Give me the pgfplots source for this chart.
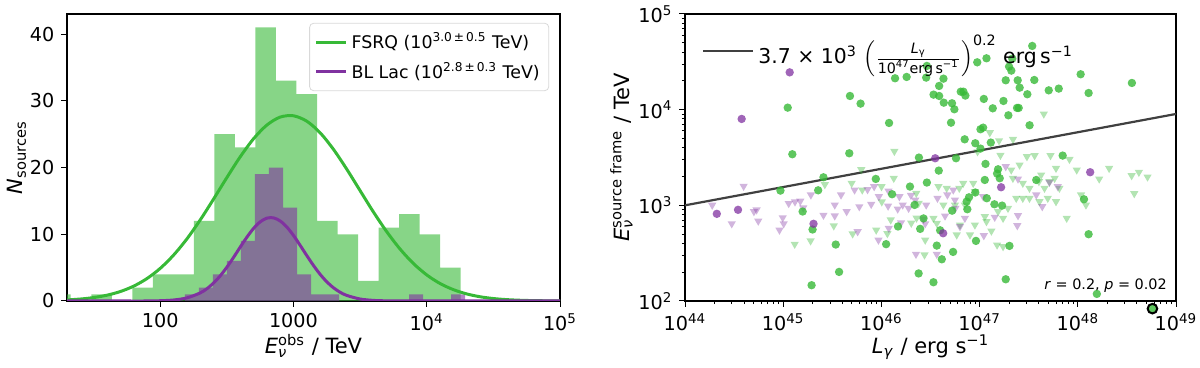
\documentclass[border=0pt]{standalone}
\usepackage{pgfplots}
\pgfplotsset{compat=1.18}
\usepackage{amsmath}
\usepackage{fontspec}
\setmainfont{DejaVu Sans}

\definecolor{fsrq}{RGB}{55,185,55}
\definecolor{bllac}{RGB}{128,50,160}
\definecolor{fitline}{RGB}{64,64,64}
\newcommand{\sups}[1]{\textsuperscript{#1}}
\newcommand{\subs}[1]{\textsubscript{#1}}

\begin{document}
\begin{tikzpicture}
\path[use as bounding box] (0,0) rectangle (600pt,184pt);

\pgfplotsset{
  every axis/.append style={
    scale only axis, height=143.5pt,
    axis line style={line width=0.6pt},
    tick align=outside, tick pos=left,
    major tick length=2.8pt, minor tick length=1.6pt,
    every tick/.style={black, line width=0.5pt},
    tick label style={font=\fontsize{9.6}{11}\selectfont},
    label style={font=\fontsize{10.5}{12}\selectfont},
    xlabel style={yshift=5pt},
  }
}

% ---------- left: histogram of observed neutrino energies ----------
\begin{axis}[
  at={(33.5pt,33.5pt)}, anchor=south west, width=246.5pt,
  xmode=log, xmin=20, xmax=1e5, ymin=0, ymax=43,
  xminorticks=false,
  xtick={100,1000,10000,100000},
  xticklabels={100,1000,10\sups{4},10\sups{5}},
  ytick={0,10,20,30,40}, yticklabels={0,10,20,30,40},
  xlabel={\textit{E}\rlap{\subs{\textit{ν}}}\sups{obs} / TeV},
  ylabel={\textit{N}\subs{sources}},
  ylabel style={yshift=-5pt},
  legend style={at={(0.978,0.969)}, anchor=north east, draw=black!15,
    rounded corners=2pt, fill=white, fill opacity=0.8, text opacity=1,
    font=\fontsize{8.7}{10}\selectfont, inner sep=2.5pt, row sep=1pt},
  legend cell align=left,
  legend image code/.code={\draw[#1] (0pt,0pt) -- (15pt,0pt);},
]
% FSRQ histogram (bin edges, counts)
\addplot[ybar interval, fill=fsrq, fill opacity=0.6, draw=none, forget plot] coordinates {
(14.96,1) (21.33,0) (30.41,1) (43.35,0) (61.80,2) (88.10,4) (125.6,4) (179.1,12)
(255.3,25) (363.9,23) (518.8,41) (739.6,33) (1054,31) (1503,12) (2143,10) (3055,3)
(4355,11) (6209,13) (8851,10) (12618,5) (17989,0)};
% BL Lac histogram
\addplot[ybar interval, fill=bllac, fill opacity=0.6, draw=none, forget plot] coordinates {
(153.5,1) (195.5,2) (249.0,4) (317.1,6) (404.0,9) (514.6,19) (655.5,20) (835.0,14)
(1063.6,4) (1355,1) (1726,1) (2198,0) (2800,0) (3567,0) (4544,0) (5787,0)
(7373,1) (9391,0) (11963,0) (15236,1) (19409,0)};
% fitted curves
\addplot[fsrq, line width=1.5pt, smooth] coordinates {
(19.95,0.160) (25.12,0.291) (31.62,0.511) (39.81,0.864) (50.12,1.409) (63.10,2.213)
(79.43,3.347) (100,4.879) (125.9,6.859) (158.5,9.288) (199.5,12.12) (251.2,15.25)
(316.2,18.48) (398.1,21.58) (501.2,24.29) (631.0,26.35) (794.3,27.55) (1000,27.75)
(1259,26.94) (1585,25.21) (1995,22.73) (2512,19.75) (3162,16.54) (3981,13.34)
(5012,10.38) (6310,7.78) (7943,5.62) (10000,3.91) (12589,2.62) (15849,1.70)
(19953,1.06) (25119,0.634) (31623,0.367) (39811,0.204) (50119,0.110) (63096,0.057)
(79433,0.029) (100000,0.014)};
\addlegendentry{FSRQ (10\sups{3.0\,±\,0.5} TeV)}
\addplot[bllac, line width=1.5pt, smooth] coordinates {
(19.95,0) (50.12,0) (79.43,0.001) (100,0.040) (125.9,0.148) (158.5,0.459)
(199.5,1.204) (223.9,1.83) (251.2,2.679) (281.8,3.75) (316.2,5.05) (354.8,6.51)
(398.1,8.05) (446.7,9.54) (501.2,10.86) (562.3,11.85) (631.0,12.41) (707.9,12.46)
(794.3,12.00) (891.3,11.09) (1000,9.83) (1122,8.35) (1259,6.81) (1413,5.33)
(1585,4.00) (1778,2.88) (1995,1.99) (2239,1.31) (2512,0.835) (3162,0.297)
(3981,0.090) (5012,0.023) (6310,0.005) (10000,0) (100000,0)};
\addlegendentry{BL Lac (10\sups{2.8\,±\,0.3} TeV)}
\end{axis}

% ---------- right: source-frame energy vs luminosity (log10 units) ----------
\begin{axis}[
  at={(342.5pt,33.5pt)}, anchor=south west, width=245.5pt,
  xmin=44, xmax=49, ymin=2, ymax=5, clip=false,
  xtick={44,45,46,47,48,49},
  xticklabels={10\sups{44},10\sups{45},10\sups{46},10\sups{47},10\sups{48},10\sups{49}},
  ytick={2,3,4,5}, yticklabels={10\sups{2},10\sups{3},10\sups{4},10\sups{5}},
  minor xtick={44.301,44.477,44.602,44.699,44.778,44.845,44.903,44.954,
    45.301,45.477,45.602,45.699,45.778,45.845,45.903,45.954,
    46.301,46.477,46.602,46.699,46.778,46.845,46.903,46.954,
    47.301,47.477,47.602,47.699,47.778,47.845,47.903,47.954,
    48.301,48.477,48.602,48.699,48.778,48.845,48.903,48.954},
  minor ytick={2.301,2.477,2.602,2.699,2.778,2.845,2.903,2.954,
    3.301,3.477,3.602,3.699,3.778,3.845,3.903,3.954,
    4.301,4.477,4.602,4.699,4.778,4.845,4.903,4.954},
  xlabel={\textit{L}\subs{\textit{γ}} / erg s\sups{−1}},
  ylabel={\textit{E}\rlap{\subs{\textit{ν}}}\sups{source frame} / TeV},
  ylabel style={yshift=-4pt},
  legend style={draw=none, fill=none, at={(0.022,0.955)}, anchor=north west,
    font=\fontsize{10.2}{12}\selectfont},
  legend image code/.code={\draw[#1] (0pt,0pt) -- (18pt,0pt);
    \path (0pt,0pt) -- (25pt,0pt);},
]
% FSRQ upper limits
\addplot[only marks, mark=triangle*, mark size=2.4pt, forget plot,
  mark options={draw opacity=0, fill=fsrq, fill opacity=0.38, rotate=180}] table {
x y
46.132 3.565
47.654 3.955
47.104 3.760
47.198 3.676
47.340 3.690
47.212 3.523
46.979 3.561
47.482 3.509
47.560 3.520
47.722 3.520
47.915 3.481
45.795 3.373
46.126 3.283
45.117 2.594
45.279 2.629
45.515 2.786
45.424 3.217
45.707 2.702
45.697 3.231
45.805 3.161
45.947 2.742
46.004 3.037
46.061 2.705
46.095 2.848
46.304 2.814
46.358 2.867
46.355 3.126
46.379 3.021
46.439 2.482
46.446 2.637
46.001 3.196
46.581 3.196
46.665 3.179
46.793 3.179
46.833 3.231
46.935 3.231
46.952 3.144
46.850 3.004
46.749 3.004
46.631 3.004
46.530 2.865
46.564 2.813
46.767 2.691
46.800 2.795
46.952 2.795
47.053 2.882
47.070 2.830
47.188 2.935
47.239 2.865
47.289 2.969
47.373 3.074
47.440 3.074
47.508 3.074
47.609 3.039
47.694 3.074
47.778 3.039
47.508 3.179
47.440 3.231
47.339 3.283
47.322 3.370
47.407 3.422
47.778 3.387
47.764 3.283
47.813 3.179
47.661 3.179
47.711 3.248
47.627 3.318
47.604 3.248
47.989 3.370
48.033 3.109
48.083 3.004
47.887 2.865
48.218 3.276
48.319 3.387
48.548 3.311
48.622 3.346
48.710 3.297
48.575 3.123
47.239 2.569
47.178 2.586
47.120 2.732
46.902 2.691
};
% BL Lac upper limits
\addplot[only marks, mark=triangle*, mark size=2.4pt, forget plot,
  mark options={draw opacity=0, fill=bllac, fill opacity=0.36, rotate=180}] table {
x y
44.277 3.002
44.597 3.200
44.476 2.808
44.729 2.953
44.702 2.935
44.746 2.836
44.962 2.742
44.995 2.871
45.005 2.808
45.056 3.020
45.120 3.037
45.174 3.044
45.204 2.974
45.282 3.109
45.410 2.897
45.525 3.004
45.525 2.890
45.589 3.109
45.646 2.935
45.727 3.161
45.758 2.725
45.775 2.986
45.859 3.165
45.896 3.011
45.926 3.196
45.970 2.637
45.974 3.091
46.072 3.150
46.068 2.993
46.075 2.760
46.166 2.962
46.183 3.091
46.217 3.004
46.277 2.969
46.301 3.105
46.345 3.056
46.352 2.489
46.446 2.808
46.456 3.004
46.200 2.818
46.429 2.856
47.266 3.405
47.391 3.276
47.577 3.109
47.638 2.987
47.711 3.241
47.796 3.196
46.749 3.056
46.732 3.161
46.672 3.109
46.571 3.074
46.648 2.889
46.800 2.778
46.850 2.865
47.036 3.091
47.154 2.876
47.391 2.893
47.384 2.788
47.043 2.684
46.564 2.489
46.753 2.969
};
% FSRQ detections
\addplot[only marks, mark=*, mark size=2.1pt, forget plot,
  mark options={draw opacity=0, fill=fsrq, fill opacity=0.8}] table {
x y
45.046 4.021
45.680 4.143
45.788 4.063
46.078 3.861
46.139 4.328
46.257 4.342
46.456 4.335
46.463 4.457
45.093 3.534
45.673 3.544
46.382 3.499
47.536 4.666
46.976 4.495
47.070 4.537
47.300 4.450
47.333 4.533
47.323 4.408
46.632 4.324
46.588 4.248
46.531 4.157
46.588 4.143
46.635 4.073
46.719 4.067
46.743 4.004
46.808 4.188
46.835 4.188
46.855 4.147
47.043 4.112
47.134 4.014
47.243 4.091
47.266 4.307
47.388 4.307
47.408 4.230
47.557 4.310
47.486 4.161
47.293 3.941
47.381 4.018
47.398 4.018
47.704 4.202
47.806 4.220
48.029 4.370
48.110 4.174
48.551 4.279
46.709 3.864
47.036 3.812
47.009 3.795
47.509 3.837
46.848 3.690
46.956 3.649
47.009 3.593
47.114 3.656
46.760 3.492
47.846 3.520
44.972 3.154
45.410 3.293
45.356 3.157
45.943 3.276
46.291 3.196
46.463 3.238
46.109 3.116
46.338 3.004
45.198 2.935
45.299 2.747
45.535 2.590
45.569 2.304
45.289 2.165
46.048 2.594
46.169 2.779
46.395 2.754
46.379 2.288
46.429 2.863
46.584 3.363
47.060 3.433
47.188 3.377
47.178 3.332
47.205 3.283
47.053 3.265
47.073 3.074
46.956 3.134
46.892 3.084
46.868 3.039
46.875 2.959
46.720 2.944
47.151 3.011
47.229 2.997
46.598 2.739
46.615 2.436
46.564 2.579
46.730 2.513
46.963 2.628
47.304 2.576
46.530 2.196
47.266 2.227
47.577 3.265
48.063 3.063
48.110 2.698
48.194 2.074
};
% BL Lac detections
\addplot[only marks, mark=*, mark size=2.1pt, forget plot,
  mark options={draw opacity=0, fill=bllac, fill opacity=0.75}] table {
x y
45.066 4.390
44.577 3.903
46.548 3.492
44.324 2.911
44.540 2.953
45.309 2.807
46.629 2.708
48.126 3.346
47.219 3.189
};
% highlighted source
\addplot[only marks, mark=*, mark size=2.4pt, forget plot,
  mark options={draw=black, line width=1pt, fill=fsrq!80!white}] coordinates {(48.76,1.92)};
% fit line
\addplot[fitline, line width=1.1pt] coordinates {(44,3.0) (49,3.955)};
\addlegendentry{3.7 × 10\sups{3} $\left(\frac{\text{\textit{L}\subs{γ}}}{\text{10\sups{47}erg\,s\sups{−1}}}\right)^{\text{0.2}}$ erg\,s\sups{−1}}
\node[anchor=south east, font=\fontsize{7.2}{9}\selectfont, inner sep=0pt]
  at (rel axis cs:0.982,0.028) {\textit{r} = 0.2, \textit{p} = 0.02};
\end{axis}
\end{tikzpicture}
\end{document}
